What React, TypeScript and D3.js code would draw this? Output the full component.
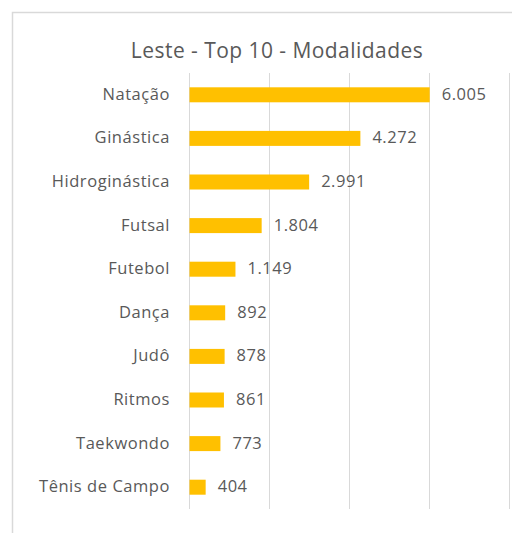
import React, { useEffect, useRef } from 'react';
import * as d3 from 'd3';

const categories = ['Natação', 'Ginástica', 'Hidroginástica', 'Futsal', 'Futebol', 'Dança', 'Judô', 'Ritmos', 'Taekwondo', 'Tênis de Campo'];
const values = [6005, 4272, 2991, 1804, 1149, 892, 878, 861, 773, 404];
const gridTicks = [0, 2000, 4000, 6000, 8000];

const width = 512;
const height = 533;
const fontFamily = '"Open Sans", sans-serif';

const fmt = (v: number) => d3.format(',')(v).replace(/,/g, '.');

const App: React.FC = () => {
  const svgRef = useRef<SVGSVGElement>(null);

  useEffect(() => {
    document.body.style.margin = '0';
    if (!svgRef.current) return;
    const svg = d3.select(svgRef.current);
    svg.selectAll('*').remove();

    const x = d3.scaleLinear().domain([0, 8000]).range([189.5, 509.5]);
    const y = d3.scaleBand<string>().domain(categories).range([73, 509]).paddingInner(0.656).paddingOuter(0.328);

    // chart border
    svg.append('rect')
      .attr('x', 12.5).attr('y', 12.5)
      .attr('width', width + 20).attr('height', height + 20)
      .attr('fill', '#fff').attr('stroke', '#d9d9d9').attr('stroke-width', 1.5);

    svg.append('text')
      .attr('x', 277).attr('y', 57.5)
      .attr('text-anchor', 'middle')
      .attr('font-family', fontFamily)
      .attr('font-size', 21)
      .attr('letter-spacing', 0.45)
      .attr('fill', '#595959')
      .text('Leste - Top 10 - Modalidades');

    // gridlines
    svg.append('g').selectAll('line').data(gridTicks).join('line')
      .attr('x1', d => x(d)).attr('x2', d => x(d))
      .attr('y1', 73).attr('y2', 509)
      .attr('stroke', '#d9d9d9').attr('stroke-width', 1);

    const rows = categories.map((c, i) => ({ name: c, value: values[i] }));

    svg.append('g').selectAll('rect').data(rows).join('rect')
      .attr('x', x(0))
      .attr('y', d => y(d.name)!)
      .attr('width', d => x(d.value) - x(0))
      .attr('height', y.bandwidth())
      .attr('fill', '#FFC000');

    svg.append('g').selectAll('text').data(rows).join('text')
      .attr('x', 170)
      .attr('y', d => y(d.name)! + y.bandwidth() / 2)
      .attr('dy', '0.3em')
      .attr('text-anchor', 'end')
      .attr('font-family', fontFamily)
      .attr('font-size', 16.5)
      .attr('letter-spacing', 0.55)
      .attr('fill', '#595959')
      .text(d => d.name);

    svg.append('g').selectAll('text').data(rows).join('text')
      .attr('x', d => x(d.value) + 12)
      .attr('y', d => y(d.name)! + y.bandwidth() / 2)
      .attr('dy', '0.3em')
      .attr('font-family', fontFamily)
      .attr('font-size', 16.5)
      .attr('letter-spacing', 0.55)
      .attr('fill', '#595959')
      .text(d => fmt(d.value));
  }, []);

  return <svg ref={svgRef} width={width} height={height} style={{ display: 'block', background: '#fff' }} />;
};

export default App;
